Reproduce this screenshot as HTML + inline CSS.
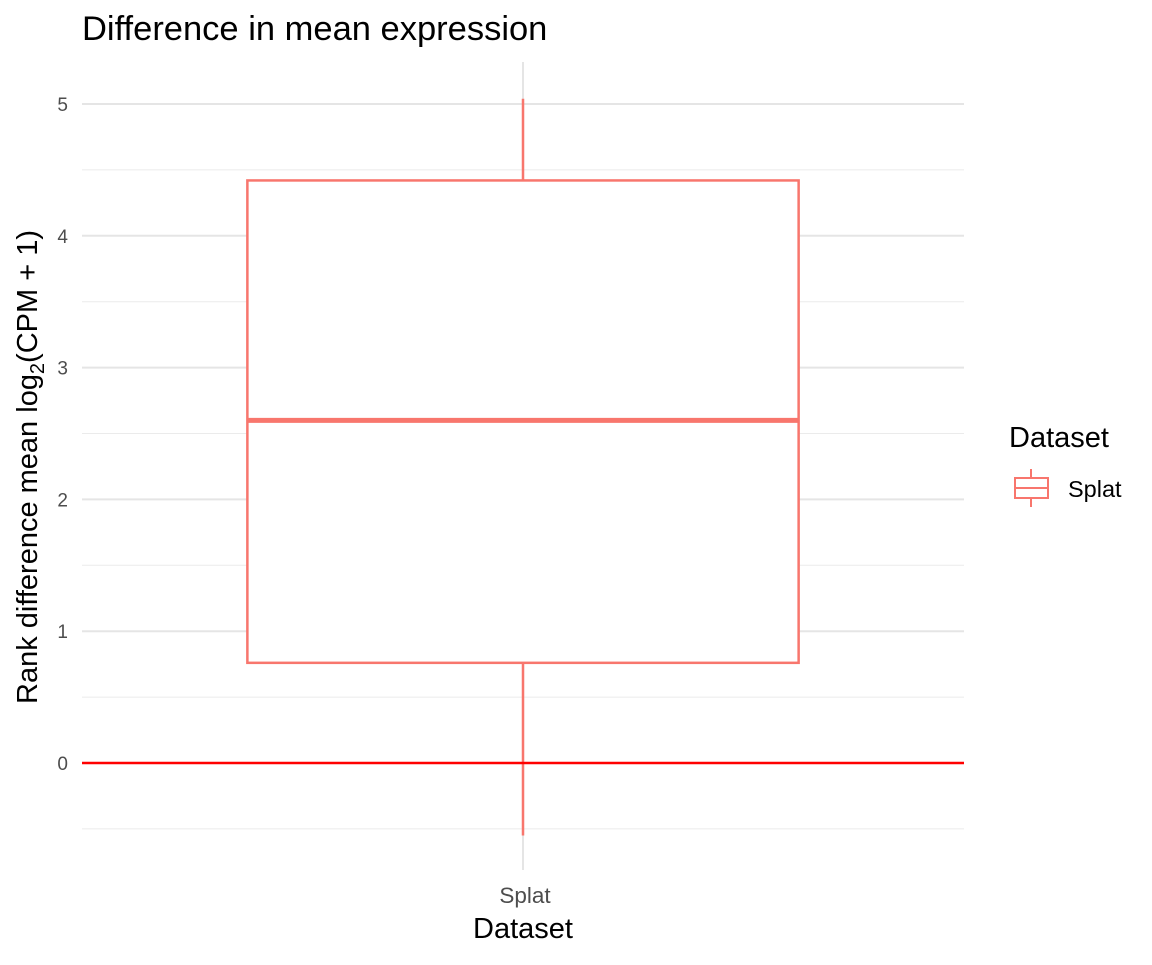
<!DOCTYPE html>
<html><head><meta charset="utf-8"><style>
body{margin:0;background:#fff;font-family:"Liberation Sans",sans-serif}
</style></head><body>
<svg id="chart" width="1152" height="960" xmlns="http://www.w3.org/2000/svg">
<rect width="1152" height="960" fill="#fff"/>
<text x="82" y="40" font-size="34.5" fill="#000">Difference in mean expression</text>
<g id="grid"></g>
<g id="marks"></g>
<text x="523" y="938" font-size="29" text-anchor="middle">Dataset</text>
<text transform="translate(37,467) rotate(-90)" font-size="29" text-anchor="middle">Rank difference mean log<tspan font-size="20" dy="7">2</tspan><tspan dy="-7">(CPM + 1)</tspan></text>
<g>
<text x="1009" y="447" font-size="29">Dataset</text>
<g stroke="#F8766D" stroke-width="2" fill="none">
<line x1="1031" y1="469" x2="1031" y2="478"/><line x1="1031" y1="498" x2="1031" y2="507"/>
<rect x="1015" y="478" width="33" height="20"/><line x1="1015" y1="488" x2="1048" y2="488"/>
</g>
<text x="1068" y="497" font-size="23.5">Splat</text>
</g>
</svg>
<script>
const categories=["Splat"];
const q1=[0.76], median=[2.60], q3=[4.42], whiskerLow=[-0.55], whiskerHigh=[5.04];
const yTicks=[0,1,2,3,4,5];
const refLine=[0];
const NS="http://www.w3.org/2000/svg";
const X0=82,X1=964,Ytop=62,Ybot=870;
const y=v=>763-131.8*v;
const xc=i=>X0+(X1-X0)*(i+0.5)/categories.length;
const bw=(X1-X0)/categories.length*0.625;
function mk(tag,attrs,parent){const e=document.createElementNS(NS,tag);for(const k in attrs)e.setAttribute(k,attrs[k]);parent.appendChild(e);return e;}
const g=document.getElementById('grid'),m=document.getElementById('marks');
for(let v=-0.5;v<=5;v+=1){const l=mk('line',{x1:X0,x2:X1,y1:y(v),y2:y(v),stroke:'#ebebeb','stroke-width':1},g);

}
yTicks.forEach(v=>{const l=mk('line',{x1:X0,x2:X1,y1:y(v),y2:y(v),stroke:'#e5e5e5','stroke-width':2},g);


const t=mk('text',{x:68,y:y(v)+7,'font-size':19,fill:'#4d4d4d','text-anchor':'end'},g);t.textContent=v;

});
categories.forEach((c,i)=>{const l=mk('line',{x1:xc(i),x2:xc(i),y1:Ytop,y2:Ybot,stroke:'#e5e5e5','stroke-width':2},g);


const t=mk('text',{x:xc(i)+2,y:903,'font-size':22.5,fill:'#4d4d4d','text-anchor':'middle'},g);t.textContent=c;


const col='#F8766D';
const w1=mk('line',{x1:xc(i),x2:xc(i),y1:y(q3[i]),y2:y(whiskerHigh[i]),stroke:col,'stroke-width':2.5},m);


const w2=mk('line',{x1:xc(i),x2:xc(i),y1:y(q1[i]),y2:y(whiskerLow[i]),stroke:col,'stroke-width':2.5},m);


const b=mk('rect',{x:xc(i)-bw/2,y:y(q3[i]),width:bw,height:y(q1[i])-y(q3[i]),fill:'#fff',stroke:col,'stroke-width':2.5},m);


const md=mk('line',{x1:xc(i)-bw/2,x2:xc(i)+bw/2,y1:y(median[i]),y2:y(median[i]),stroke:col,'stroke-width':5},m);

});
refLine.forEach(v=>{const l=mk('line',{x1:X0,x2:X1,y1:y(v),y2:y(v),stroke:'#ff0000','stroke-width':2.5},m);

});
</script>
</body></html>
